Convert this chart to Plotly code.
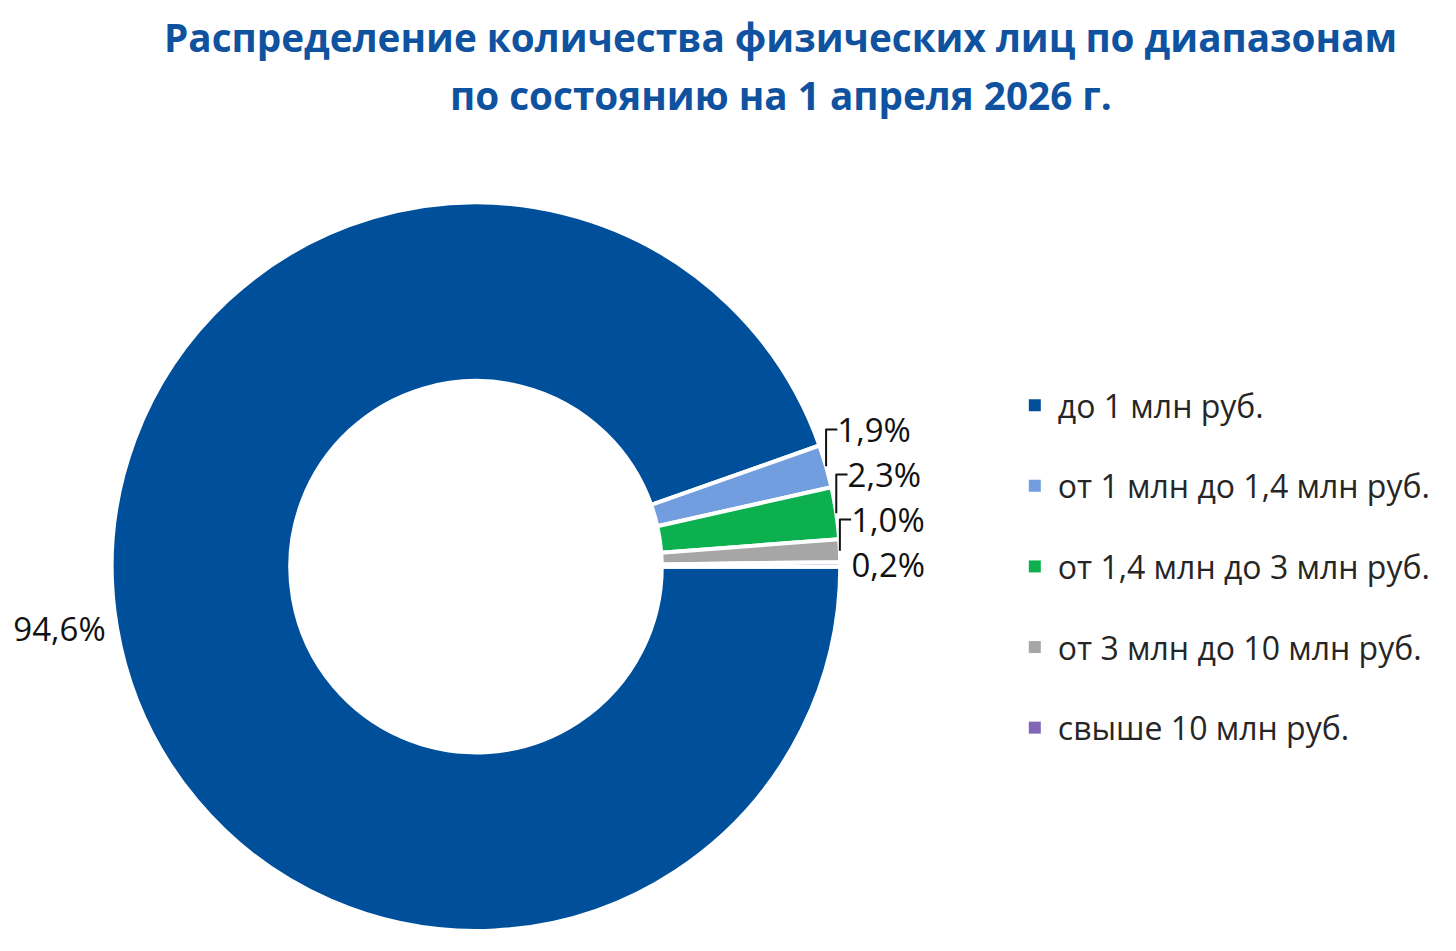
import plotly.graph_objects as go

# data
categories = ['до 1 млн руб.', 'от 1 млн до 1,4 млн руб.', 'от 1,4 млн до 3 млн руб.',
              'от 3 млн до 10 млн руб.', 'свыше 10 млн руб.']
shares = [94.6, 1.9, 2.3, 1.0, 0.2]
colors = ['#004f9b', '#729ddf', '#0db04f', '#a6a6a6', '#8266b5']

title_lines = ['Распределение количества физических лиц по диапазонам',
               'по состоянию на 1 апреля 2026 г.']

fig = go.Figure()
fig.add_trace(go.Pie(
    labels=categories, values=shares, sort=False,
    direction='clockwise', rotation=90, hole=0.51,
    marker=dict(colors=colors, line=dict(color='white', width=4)),
    texttemplate='%{percent:.1%}', textposition='outside',
    textfont=dict(family='Open Sans', size=33, color='#111111'),
    showlegend=False, hoverinfo='label+percent',
    domain=dict(x=[0.070, 0.571], y=[0.028, 0.797]),
))

# legend entries, one group each so the gap can be set
for name, c in zip(categories, colors):
    fig.add_trace(go.Scatter(
        x=[None], y=[None], mode='markers', name=name, legendgroup=name,
        marker=dict(symbol='square', size=14, color=c),
    ))

# title as two lines to get the wider line spacing
for line, yy in zip(title_lines, [0.969, 0.908]):
    fig.add_annotation(text='<b>' + line + '</b>', x=0.530, y=yy,
                       xref='paper', yref='paper', xanchor='center', yanchor='middle',
                       showarrow=False,
                       font=dict(family='Open Sans', size=38.7, color='#0e52a0'))

fig.update_layout(
    width=1456, height=951,
    paper_bgcolor='white', plot_bgcolor='white',
    margin=dict(l=0, r=0, t=0, b=0),
    separators=', ',
    xaxis=dict(visible=False), yaxis=dict(visible=False),
    legend=dict(x=0.689, xanchor='left', y=0.611, yanchor='top',
                font=dict(family='Open Sans', size=32, color='#262626'),
                tracegroupgap=36, itemsizing='constant', itemwidth=36),
)

fig.write_html('out.html')
